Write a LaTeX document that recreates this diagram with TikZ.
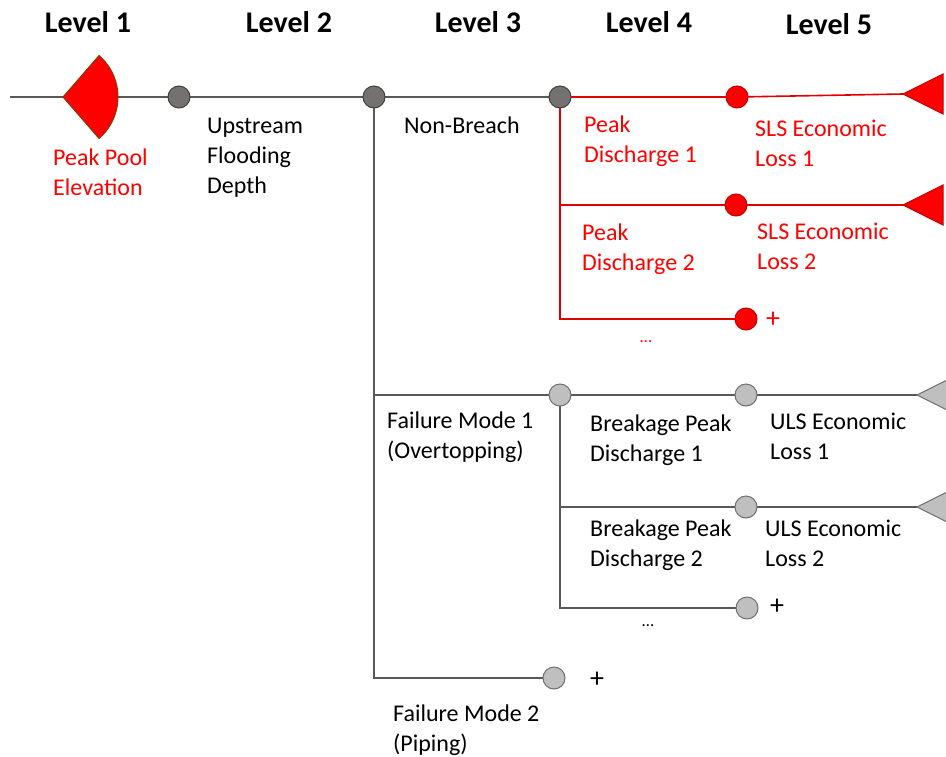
\documentclass[tikz,border=0pt]{standalone}
\usepackage{fontspec}
\setmainfont{Carlito}
\usetikzlibrary{backgrounds}
\definecolor{linegray}{HTML}{595959}
\definecolor{dotdark}{HTML}{767171}
\definecolor{dotdarkedge}{HTML}{404040}
\definecolor{dotlight}{HTML}{BFBFBF}
\definecolor{dotlightedge}{HTML}{6F6F6F}
\definecolor{lred}{HTML}{FF0000}
\definecolor{redline}{HTML}{E00000}
\definecolor{rededge}{HTML}{C00000}
\definecolor{sectoredge}{HTML}{843C0C}
\tikzset{
  gline/.style={draw=linegray, line width=1.6pt},
  rline/.style={draw=redline, line width=1.6pt},
  dotbase/.style={circle, minimum size=22pt, inner sep=0pt, line width=1pt},
  dkdot/.style={dotbase, fill=dotdark, draw=dotdarkedge},
  ltdot/.style={dotbase, fill=dotlight, draw=dotlightedge},
  rdot/.style={dotbase, fill=lred, draw=rededge},
  lbl/.style={anchor=north west, inner sep=0pt, align=left,
    font=\fontsize{24}{30}\selectfont, execute at begin node=\strut},
  rlbl/.style={lbl, text=lred},
  hdr/.style={anchor=base, inner sep=0pt, font=\fontsize{30}{36}\selectfont\bfseries},
  plus/.style={inner sep=0pt, font=\fontsize{28}{30}\selectfont},
  dots/.style={inner sep=0pt, font=\fontsize{17}{20}\selectfont},
  rterm/.style={fill=lred, draw=rededge, line width=1pt},
  gterm/.style={fill=dotlight, draw=dotlightedge, line width=1pt},
}
\begin{document}
\begin{tikzpicture}[x=1pt, y=-1pt]
\useasboundingbox (0,0) rectangle (946,756);
\clip (0,0) rectangle (946,756);

% column headings
\node[hdr] (h1) at (88,32) {Level 1};
\node[hdr] (h2) at (289,32) {Level 2};
\node[hdr] (h3) at (478,32) {Level 3};
\node[hdr] (h4) at (649,32) {Level 4};
\node[hdr] (h5) at (829,34) {Level 5};

% decision point and chance nodes
\coordinate (start) at (10,97);
\coordinate (l1) at (63,97);
\node[dkdot] (n2) at (179,97) {};
\node[dkdot] (n3) at (374,97) {};
\node[dkdot] (n4) at (560,97) {};

% non-breach branch (red)
\node[rdot] (s1) at (737,97) {};
\node[rdot] (s2) at (736,205) {};
\node[rdot] (s3) at (746,319) {};
\coordinate (rt1) at (903,94);
\coordinate (rt2) at (903,205);

% failure mode branches (grey)
\node[ltdot] (fm1) at (560,395) {};
\node[ltdot] (u1) at (746,395) {};
\node[ltdot] (u2) at (746,507) {};
\node[ltdot] (u3) at (747,608) {};
\node[ltdot] (fm2) at (554,678) {};
\coordinate (gt1) at (917,395);
\coordinate (gt2) at (917,507);

\begin{scope}[on background layer]
  \draw[gline] (start) -- (n4.center);
  \draw[gline] (n3.center) |- (fm2.center);
  \draw[gline] (n3.center) |- (fm1.center);
  \draw[gline] (fm1.center) -- (u1.center) -- (gt1);
  \draw[gline] (fm1.center) |- (u2.center);
  \draw[gline] (u2.center) -- (gt2);
  \draw[gline] (fm1.center) |- (u3.center);
  \draw[rline] (n4.center) -- (s1.center) -- (rt1);
  \draw[rline] (n4.center) |- (s2.center);
  \draw[rline] (s2.center) -- (rt2);
  \draw[rline] (n4.center) |- (s3.center);
\end{scope}

% level 1 sector
\filldraw[fill=lred, draw=sectoredge, line width=1pt]
  (l1) -- ++(-49:55) arc[start angle=-49, end angle=49, radius=55] -- cycle;

% terminal triangles
\filldraw[rterm] (rt1) -- ++(40,-20) -- ++(0,40) -- cycle;
\filldraw[rterm] (rt2) -- ++(40,-20) -- ++(0,40) -- cycle;
\filldraw[gterm] (gt1) -- ++(40,-20) -- ++(0,40) -- cycle;
\filldraw[gterm] (gt2) -- ++(40,-20) -- ++(0,40) -- cycle;

% labels
\node[rlbl] (tpp) at (53,149) {Peak Pool\\Elevation};
\node[lbl] (tufd) at (207,118) {Upstream\\Flooding\\Depth};
\node[lbl] (tnb) at (404,112) {Non-Breach};
\node[rlbl] (tpd1) at (584,116) {Peak\\Discharge 1};
\node[rlbl] (tsls1) at (755,120) {SLS Economic\\Loss 1};
\node[rlbl] (tpd2) at (582,224) {Peak\\Discharge 2};
\node[rlbl] (tsls2) at (757,223) {SLS Economic\\Loss 2};
\node[plus, text=lred] (rplus) at (773,320) {+};
\node[dots, text=lred] (rdots) at (646,342) {…};
\node[lbl] (tfm1) at (387,412) {Failure Mode 1\\(Overtopping)};
\node[lbl] (tbpd1) at (590,415) {Breakage Peak\\Discharge 1};
\node[lbl] (tuls1) at (770,413) {ULS Economic\\Loss 1};
\node[lbl] (tbpd2) at (590,520) {Breakage Peak\\Discharge 2};
\node[lbl] (tuls2) at (765,520) {ULS Economic\\Loss 2};
\node[plus] (gplus1) at (777,607) {+};
\node[dots] (gdots) at (648,626) {…};
\node[plus] (gplus2) at (597,680) {+};
\node[lbl] (tfm2) at (393,705) {Failure Mode 2\\(Piping)};
\end{tikzpicture}
\end{document}
